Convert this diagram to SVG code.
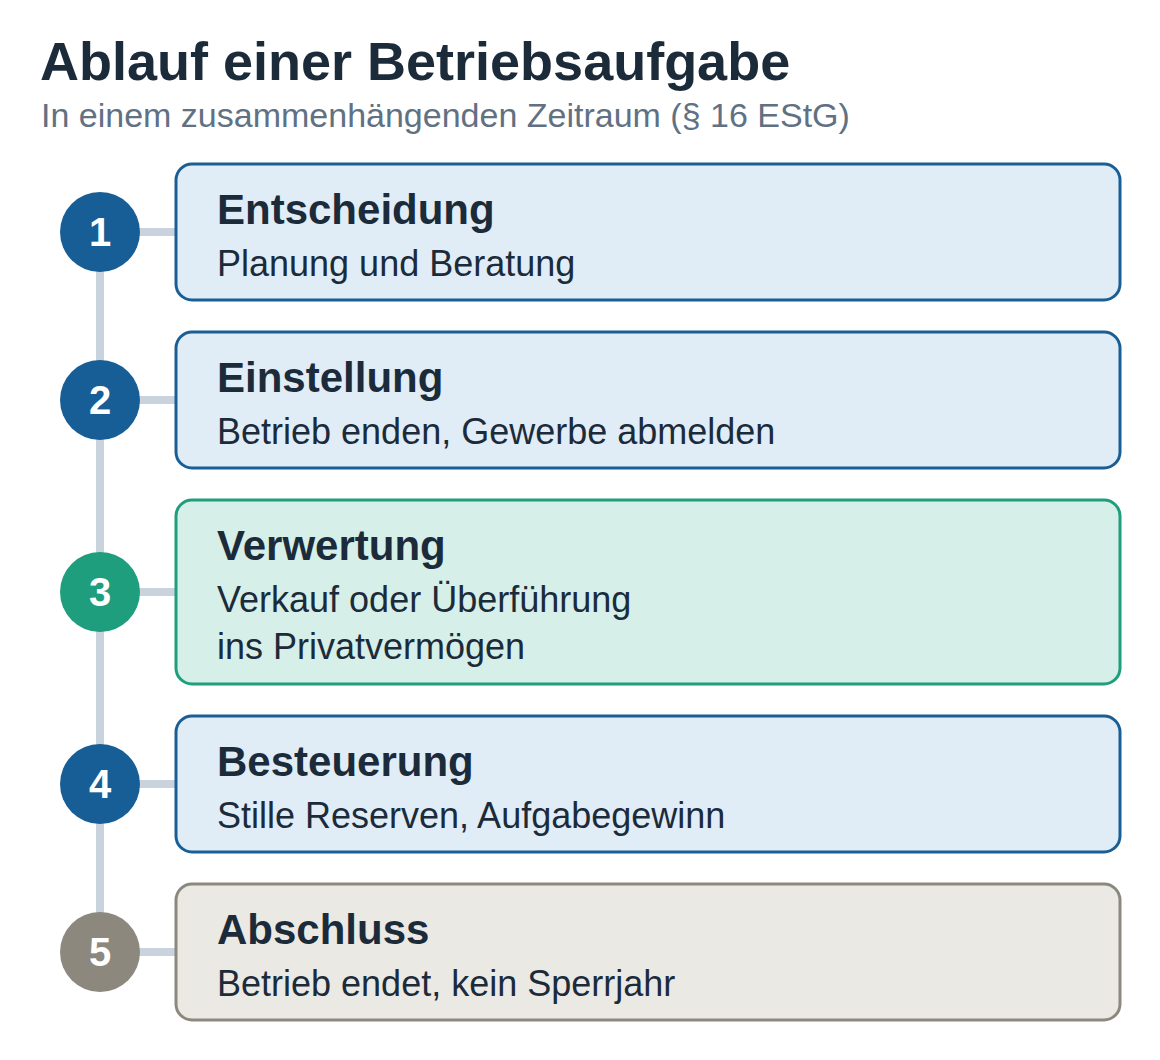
<svg xmlns="http://www.w3.org/2000/svg" width="1160" height="1060" viewBox="0 0 1160 1060">
<style>
.h1{font-family:"Liberation Sans",Arial,sans-serif;font-weight:bold;font-size:54px;fill:#1c2b3a}
.sub{font-family:"Liberation Sans",Arial,sans-serif;font-size:34px;fill:#5f7182}
.t{font-family:"Liberation Sans",Arial,sans-serif;font-weight:bold;font-size:42px;fill:#1c2b3a}
.d{font-family:"Liberation Sans",Arial,sans-serif;font-size:36px;fill:#1c2b3a}
.n{font-family:"Liberation Sans",Arial,sans-serif;font-weight:bold;font-size:40px;fill:#ffffff;text-anchor:middle}
.blue rect{fill:#e1edf6;stroke:#1a5e96;stroke-width:3}
.green rect{fill:#d6efe8;stroke:#1e9e7c;stroke-width:3}
.grey rect{fill:#ebe9e4;stroke:#8c887e;stroke-width:3}
.blue circle{fill:#185e96}
.green circle{fill:#1e9e7c}
.grey circle{fill:#8c887e}
.c{stroke:#c8d3dd;stroke-width:8;fill:none}
</style>
<rect width="1160" height="1060" fill="#ffffff"/>
<text class="h1" x="40" y="80">Ablauf einer Betriebsaufgabe</text>
<text class="sub" x="41" y="127">In einem zusammenhängenden Zeitraum (§ 16 EStG)</text>
<g id="connectors">
<line class="c" x1="100" y1="232" x2="100" y2="952"/>
<line class="c" x1="100" y1="232" x2="176" y2="232"/>
<line class="c" x1="100" y1="400" x2="176" y2="400"/>
<line class="c" x1="100" y1="592" x2="176" y2="592"/>
<line class="c" x1="100" y1="784" x2="176" y2="784"/>
<line class="c" x1="100" y1="952" x2="176" y2="952"/>
</g>
<g id="step1" class="blue">
<rect x="176" y="164" width="944" height="136" rx="16"/>
<circle cx="100" cy="232" r="40"/>
<text class="n" x="100" y="246">1</text>
<text class="t" x="217" y="224">Entscheidung</text>
<text class="d" x="217" y="276">Planung und Beratung</text>
</g>
<g id="step2" class="blue">
<rect x="176" y="332" width="944" height="136" rx="16"/>
<circle cx="100" cy="400" r="40"/>
<text class="n" x="100" y="414">2</text>
<text class="t" x="217" y="392">Einstellung</text>
<text class="d" x="217" y="444">Betrieb enden, Gewerbe abmelden</text>
</g>
<g id="step3" class="green">
<rect x="176" y="500" width="944" height="184" rx="16"/>
<circle cx="100" cy="592" r="40"/>
<text class="n" x="100" y="606">3</text>
<text class="t" x="217" y="560">Verwertung</text>
<text class="d" x="217" y="612">Verkauf oder Überführung</text>
<text class="d" x="217" y="659">ins Privatvermögen</text>
</g>
<g id="step4" class="blue">
<rect x="176" y="716" width="944" height="136" rx="16"/>
<circle cx="100" cy="784" r="40"/>
<text class="n" x="100" y="798">4</text>
<text class="t" x="217" y="776">Besteuerung</text>
<text class="d" x="217" y="828">Stille Reserven, Aufgabegewinn</text>
</g>
<g id="step5" class="grey">
<rect x="176" y="884" width="944" height="136" rx="16"/>
<circle cx="100" cy="952" r="40"/>
<text class="n" x="100" y="966">5</text>
<text class="t" x="217" y="944">Abschluss</text>
<text class="d" x="217" y="996">Betrieb endet, kein Sperrjahr</text>
</g>
</svg>
